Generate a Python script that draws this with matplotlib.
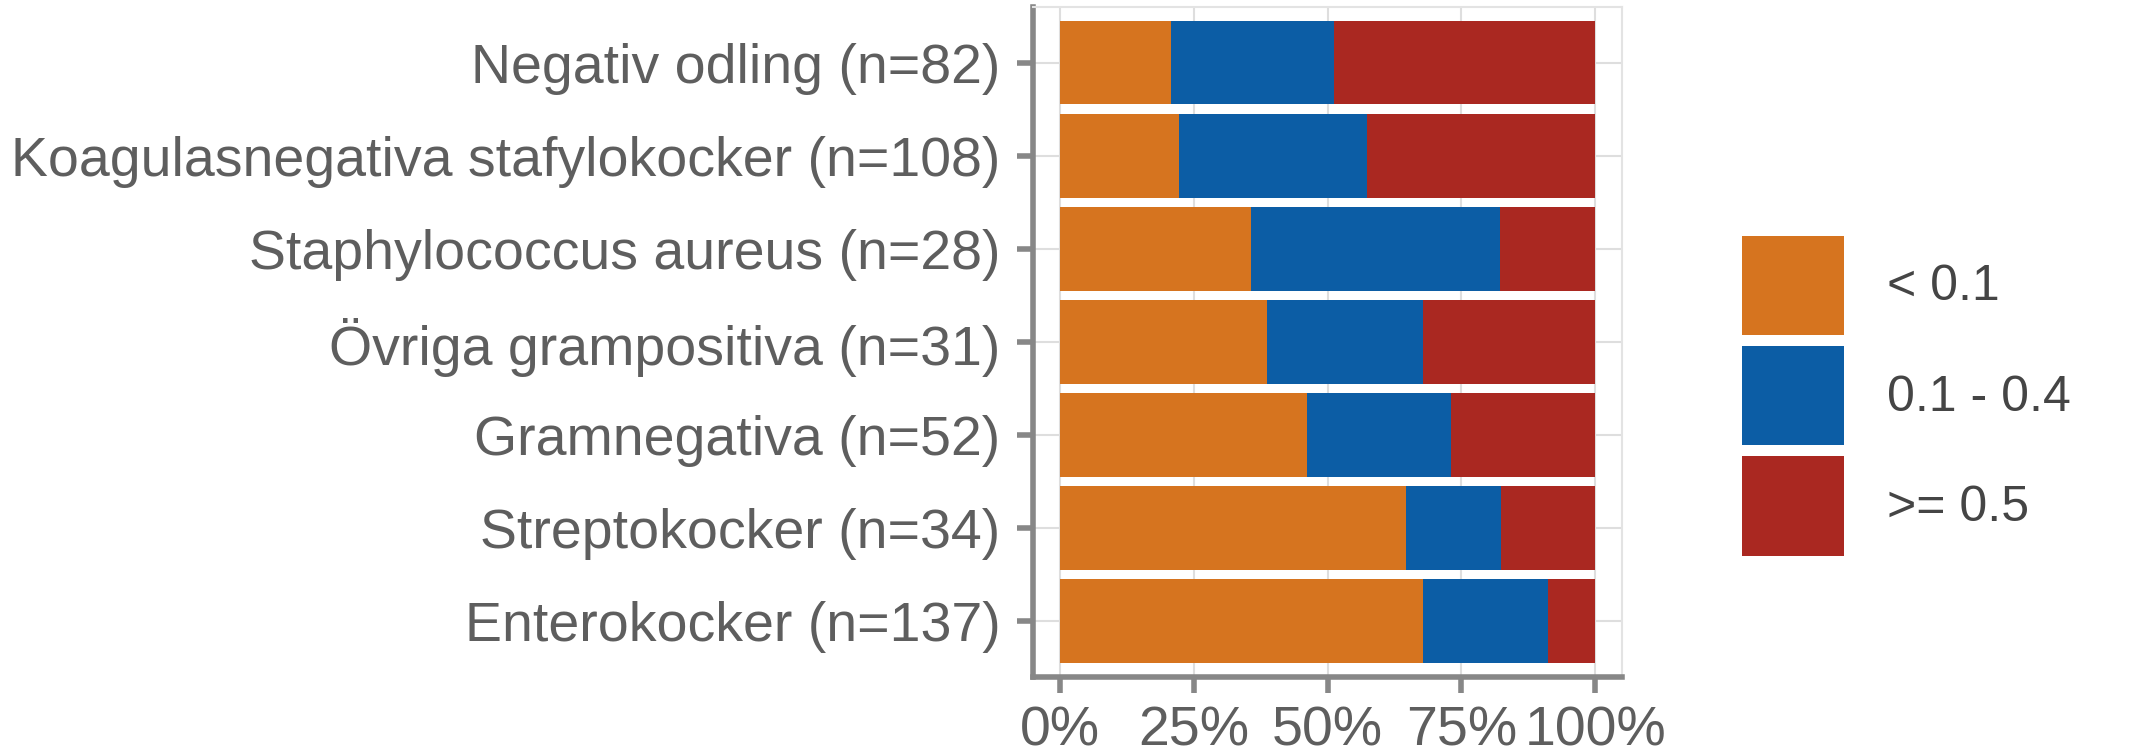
import matplotlib
matplotlib.use('Agg')
import matplotlib.pyplot as plt
from matplotlib.patches import Patch
import numpy as np

plt.rcParams['font.family'] = ['Liberation Sans', 'DejaVu Sans']

# categories top to bottom, with counts per group
categories = ['Negativ odling', 'Koagulasnegativa stafylokocker', 'Staphylococcus aureus',
              'Övriga grampositiva', 'Gramnegativa', 'Streptokocker', 'Enterokocker']
low = [17, 24, 10, 12, 24, 22, 93]     # < 0.1
mid = [25, 38, 13, 9, 14, 6, 32]       # 0.1 - 0.4
high = [40, 46, 5, 10, 14, 6, 12]      # >= 0.5
groups = ['< 0.1', '0.1 - 0.4', '>= 0.5']
colors = ['#D6741F', '#0C5DA5', '#AA2821']
xticks = [0, 25, 50, 75, 100]

AXIS_GREY = '#878787'
TEXT_GREY = '#5E5E5E'

counts = np.array([low, mid, high], dtype=float)
totals = counts.sum(axis=0)
pct = counts / totals * 100
labels = [f'{c} (n={int(n)})' for c, n in zip(categories, totals)]
ypos = np.arange(len(categories))[::-1] + 1

fig = plt.figure(figsize=(21.36, 7.56), dpi=100)
ax = fig.add_axes([0.4836, 0.1048, 0.7594 - 0.4836, 0.9911 - 0.1048])

left = np.zeros(len(categories))
for i in range(3):
    ax.barh(ypos, pct[i], left=left, height=0.9, color=colors[i], zorder=3)
    left += pct[i]

ax.set_xlim(-5, 105)
ax.set_ylim(0.4, len(categories) + 0.6)
ax.set_xticks(xticks)
ax.set_xticklabels([f'{t}%' for t in xticks])
ax.set_yticks(ypos)
ax.set_yticklabels(labels)
ax.grid(True, color='#DEDEDE', linewidth=1.5, zorder=0)
ax.set_axisbelow(True)

for side in ['top', 'right']:
    ax.spines[side].set_color('#E3E3E3')
    ax.spines[side].set_linewidth(1.5)
for side in ['left', 'bottom']:
    ax.spines[side].set_color(AXIS_GREY)
    ax.spines[side].set_linewidth(4)
    ax.spines[side].set_capstyle('projecting')

ax.tick_params(axis='both', colors=AXIS_GREY, labelcolor=TEXT_GREY, length=11.5,
               width=4, labelsize=40)
ax.tick_params(axis='y', pad=12)
ax.tick_params(axis='x', pad=9)

handles = [Patch(facecolor=c, edgecolor='none') for c in colors]
leg = fig.legend(handles, groups, loc='center left', bbox_to_anchor=(0.8155, 0.4766),
                 frameon=False, fontsize=36, handlelength=2.04, handleheight=2.68,
                 labelspacing=0.22, handletextpad=0.86, borderpad=0, borderaxespad=0)
for t in leg.get_texts():
    t.set_color('#454545')

fig.savefig('out.png', dpi=100)
